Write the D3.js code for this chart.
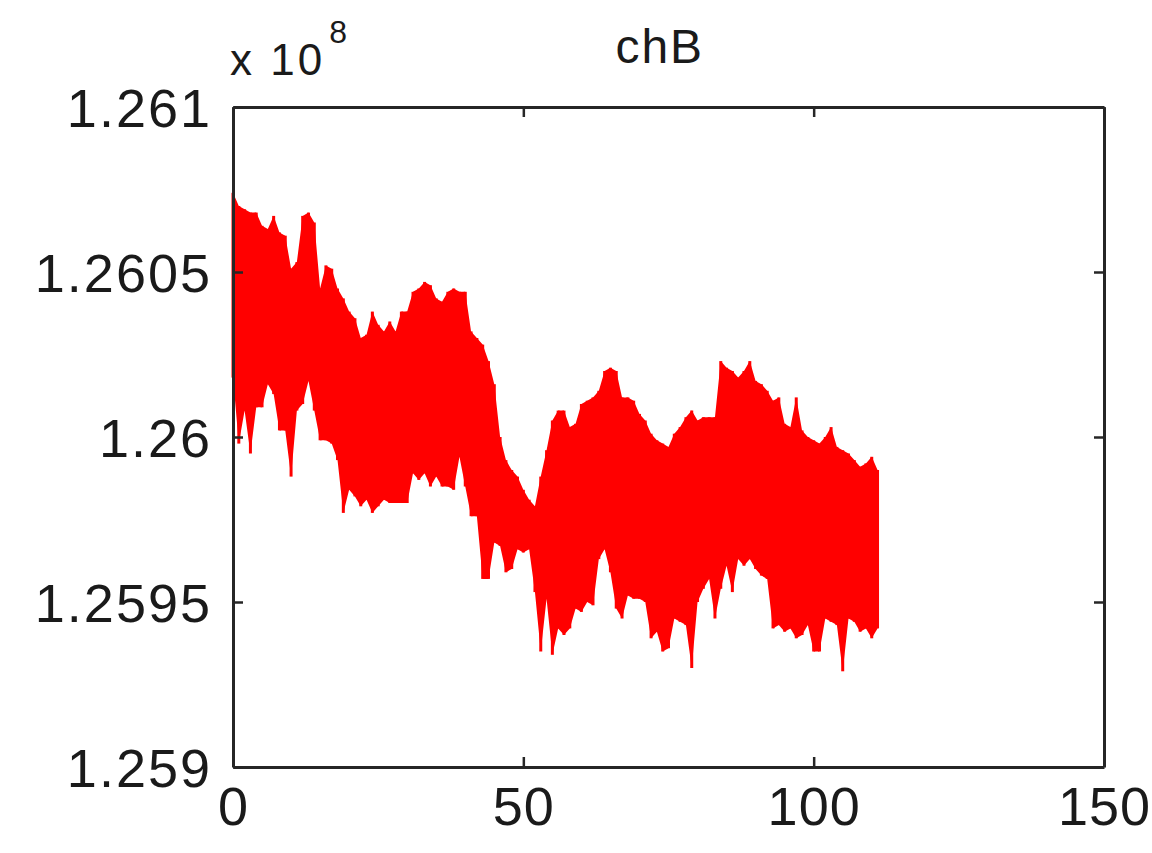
<!DOCTYPE html>
<html>
<head>
<meta charset="utf-8">
<script src="https://cdn.jsdelivr.net/npm/d3@7"></script>
<style>
  body { margin: 0; background: #fff; }
  svg text { font-family: 'Liberation Sans', Arial, Helvetica, sans-serif; fill: #1a1a1a; }
  .axis path, .axis line { stroke: #262626; }
  .axis path { stroke-width: 3; }
  .axis line { stroke-width: 2.5; }
</style>
</head>
<body>
<div class="chart"></div>
<script>
// data (y in units of 10^8), one sample per x step, upper and lower edge of the trace
var title  = 'chB';
var xTicks = [0, 50, 100, 150];
var yTicks = [1.259, 1.2595, 1.26, 1.2605, 1.261];

var hi = [1.26074,1.26070,1.26069,1.26068,1.26068,1.26064,1.26063,1.26067,1.26062,1.26061,
          1.26051,1.26053,1.26067,1.26068,1.26065,1.26045,1.26052,1.26051,1.26045,1.26042,
          1.26038,1.26036,1.26030,1.26031,1.26038,1.26034,1.26032,1.26035,1.26032,1.26038,
          1.26038,1.26044,1.26045,1.26047,1.26046,1.26042,1.26041,1.26044,1.26045,1.26044,
          1.26044,1.26032,1.26030,1.26028,1.26023,1.26016,1.26000,1.25993,1.25990,1.25988,
          1.25984,1.25981,1.25979,1.25988,1.25996,1.26005,1.26008,1.26008,1.26003,1.26004,
          1.26010,1.26011,1.26012,1.26014,1.26020,1.26021,1.26020,1.26012,1.26012,1.26011,
          1.26007,1.26005,1.26001,1.25999,1.25998,1.25997,1.26001,1.26003,1.26006,1.26008,
          1.26005,1.26006,1.26006,1.26006,1.26023,1.26021,1.26020,1.26018,1.26020,1.26023,
          1.26017,1.26016,1.26014,1.26011,1.26012,1.26004,1.26003,1.26012,1.26002,1.26000,
          1.25999,1.25998,1.26000,1.26003,1.25997,1.25996,1.25995,1.25993,1.25991,1.25992,
          1.25994,1.25990];

var lo = [1.26018,1.25998,1.26008,1.25995,1.26009,1.26009,1.26016,1.26013,1.26002,1.26002,
          1.25988,1.26008,1.26010,1.26017,1.26008,1.25999,1.25999,1.25998,1.25993,1.25977,
          1.25984,1.25982,1.25979,1.25981,1.25977,1.25979,1.25981,1.25980,1.25980,1.25980,
          1.25980,1.25989,1.25987,1.25989,1.25985,1.25988,1.25985,1.25985,1.25984,1.25994,
          1.25985,1.25976,1.25976,1.25957,1.25957,1.25968,1.25967,1.25959,1.25960,1.25966,
          1.25965,1.25966,1.25953,1.25935,1.25951,1.25934,1.25942,1.25940,1.25942,1.25948,
          1.25947,1.25950,1.25949,1.25963,1.25966,1.25959,1.25948,1.25945,1.25952,1.25951,
          1.25951,1.25950,1.25939,1.25941,1.25935,1.25936,1.25945,1.25944,1.25943,1.25930,
          1.25950,1.25954,1.25957,1.25945,1.25954,1.25961,1.25953,1.25963,1.25961,1.25963,
          1.25960,1.25958,1.25957,1.25942,1.25943,1.25941,1.25942,1.25939,1.25940,1.25943,
          1.25935,1.25935,1.25945,1.25944,1.25943,1.25929,1.25945,1.25944,1.25941,1.25942,
          1.25939,1.25942];

// layout
var margin = { top: 107, right: 48, bottom: 86, left: 233 },
    width  = 1152 - margin.left - margin.right,
    height = 853 - margin.top - margin.bottom,
    x      = d3.scaleLinear().domain([0, 150]).range([0, width]),
    y      = d3.scaleLinear().domain([1.259, 1.261]).range([height, 0]);

var fmt = function(d){ return String(+d.toFixed(4)); };

var svg = d3.select('.chart')
            .append('svg')
            .attr('width', 1152)
            .attr('height', 853)
            .append('g')
            .attr('transform', 'translate(' + margin.left + ',' + margin.top + ')');

var pts = hi.map(function(h, i){ return { x: i, hi: h, lo: lo[i] }; });

// trace body
var area = d3.area()
             .x(function(d){ return x(d.x); })
             .y0(function(d){ return y(d.lo); })
             .y1(function(d){ return y(d.hi); });

svg.append('path')
    .datum(pts)
    .attr('fill', '#ff0000')
    .attr('d', area);

// each sample's swing
svg.selectAll('line.swing')
    .data(pts)
    .enter()
    .append('line')
    .attr('class', 'swing')
    .attr('x1', function(d){ return x(d.x); })
    .attr('x2', function(d){ return x(d.x); })
    .attr('y1', function(d){ return y(d.lo); })
    .attr('y2', function(d){ return y(d.hi); })
    .attr('stroke', '#ff0000')
    .attr('stroke-width', 3);

// axes, matlab box with inward ticks
var xAxis  = d3.axisBottom(x).tickValues(xTicks).tickFormat(d3.format('d')).tickSize(-10).tickSizeOuter(0).tickPadding(20);
var xAxisT = d3.axisTop(x).tickValues(xTicks).tickFormat('').tickSize(-10).tickSizeOuter(0);
var yAxis  = d3.axisLeft(y).tickValues(yTicks).tickFormat(fmt).tickSize(-10).tickSizeOuter(0).tickPadding(21);
var yAxisR = d3.axisRight(y).tickValues(yTicks).tickFormat('').tickSize(-10).tickSizeOuter(0);

svg.append('g')
    .attr('class', 'x axis')
    .attr('transform', 'translate(0,' + height + ')')
    .call(xAxis)
    .selectAll('text')
    .attr('font-size', 54)
    .attr('letter-spacing', 1)
    .attr('dy', '0.71em');

svg.append('g')
    .attr('class', 'x axis')
    .call(xAxisT);

svg.append('g')
    .attr('class', 'y axis')
    .call(yAxis)
    .selectAll('text')
    .attr('font-size', 54)
    .attr('letter-spacing', 2)
    .attr('dy', '0.36em');

svg.append('g')
    .attr('class', 'y axis')
    .attr('transform', 'translate(' + width + ',0)')
    .call(yAxisR);

svg.selectAll('.axis text').style('font-family', "'Liberation Sans', Arial, sans-serif").attr('fill', '#1a1a1a');

// exponent label
var expo = svg.append('text')
              .attr('x', -3)
              .attr('y', -32)
              .attr('font-size', 44)
              .attr('letter-spacing', 3);
expo.append('tspan').text('x 10');
expo.append('tspan').attr('dy', -32).attr('dx', 4).attr('font-size', 32).text('8');

// title
svg.append('text')
    .attr('x', x(73.5))
    .attr('y', -44)
    .attr('text-anchor', 'middle')
    .attr('font-size', 48)
    .attr('letter-spacing', 2)
    .text(title);
</script>
</body>
</html>
